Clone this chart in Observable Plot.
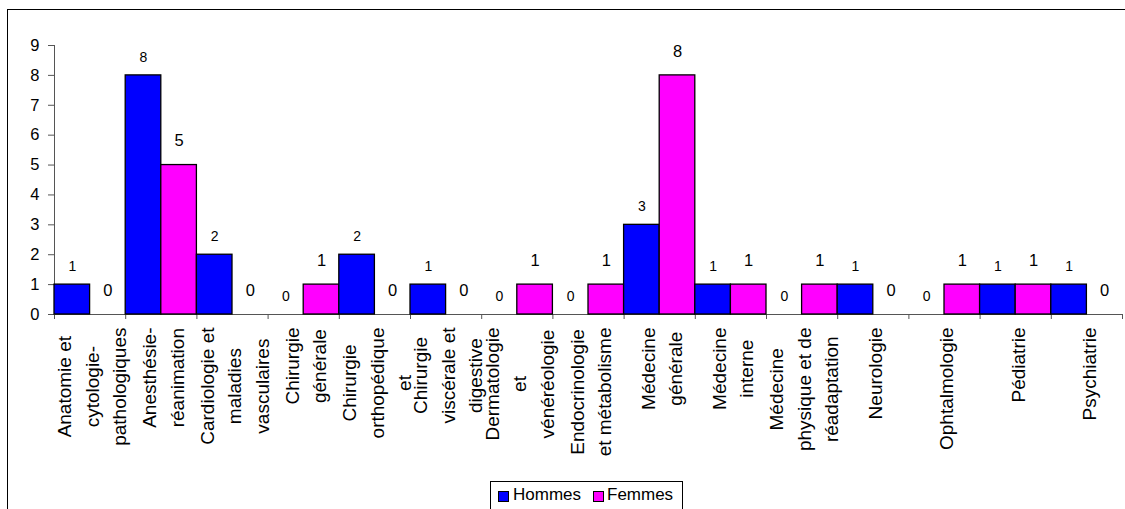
<!DOCTYPE html>
<html>
<head>
<meta charset="utf-8">
<script src="https://cdn.jsdelivr.net/npm/d3@7"></script>
<script src="https://cdn.jsdelivr.net/npm/@observablehq/plot@0.6"></script>
<style>
html, body { margin: 0; padding: 0; background: #fff; overflow: hidden; }
#wrap { position: relative; width: 1125px; height: 509px; overflow: hidden; font-family: Arial, "Liberation Sans", sans-serif; }
#frame { position: absolute; left: 7px; top: 9px; width: 1200px; height: 600px; border: 1px solid #000; box-sizing: border-box; }
#chart { position: absolute; left: 0; top: 0; }
#legend { position: absolute; left: 490px; top: 481px; width: 193px; height: 40px; border: 1px solid #000; box-sizing: border-box; background: #fff; font-size: 17px; color: #000; }
#legend .sw { position: absolute; width: 9px; height: 9px; border: 1px solid #000; top: 9px; }
#legend .lb { position: absolute; top: 3px; line-height: 19px; white-space: nowrap; }
</style>
</head>
<body>
<div id="wrap">
  <div id="frame"></div>
  <div id="chart"></div>
  <div id="legend"></div>
</div>
<script>
// ---- data ----
const categories = [
  "Anatomie et\ncytologie-\npathologiques",
  "Anesthésie-\nréanimation",
  "Cardiologie et\nmaladies\nvasculaires",
  "Chirurgie\ngénérale",
  "Chirurgie\northopédique\net",
  "Chirurgie\nviscérale et\ndigestive",
  "Dermatologie\net\nvénéréologie",
  "Endocrinologie\net métabolisme",
  "Médecine\ngénérale",
  "Médecine\ninterne",
  "Médecine\nphysique et de\nréadaptation",
  "Neurologie",
  "Ophtalmologie",
  "Pédiatrie",
  "Psychiatrie"
];
const hommes = [1, 8, 2, 0, 2, 1, 0, 0, 3, 1, 0, 1, 0, 1, 1];
const femmes = [0, 5, 0, 1, 0, 0, 1, 1, 8, 1, 1, 0, 1, 1, 0];
const seriesNames = ["Hommes", "Femmes"];
const seriesColors = ["#0000FF", "#FF00FF"];
const yTicks = [0, 1, 2, 3, 4, 5, 6, 7, 8, 9];

// ---- table ----
const rows = categories.flatMap((c, i) => [
  {cat: c, i, sex: "Hommes", v: hommes[i]},
  {cat: c, i, sex: "Femmes", v: femmes[i]}
]);
const off = s => s === "Hommes" ? 0 : 0.5;

const FONT = "Arial, 'Liberation Sans', sans-serif";
const LABEL_SIZE = 19;
const ctx = document.createElement("canvas").getContext("2d");
ctx.font = LABEL_SIZE + "px Arial, 'Liberation Sans', sans-serif";

const labelMarks = categories.map((c, i) => {
  const w = d3.max(c.split("\n"), s => ctx.measureText(s).width);
  return Plot.text([i + 0.5], {
    x: d => d, text: () => c, frameAnchor: "bottom",
    rotate: -90, textAnchor: "middle", lineAnchor: "middle",
    lineHeight: 27.5 / LABEL_SIZE, fontSize: LABEL_SIZE, fill: "#000",
    dy: 13 + w / 2
  });
});

const axisColor = "#555";

const chart = Plot.plot({
  width: 1125,
  height: 509,
  marginLeft: 54,
  marginRight: 3,
  marginTop: 45,
  marginBottom: 195,
  style: {fontFamily: FONT, fontSize: "16px", background: "transparent", color: "#000", overflow: "visible"},
  x: {type: "linear", domain: [0, categories.length], axis: null},
  y: {domain: [0, 9], axis: null},
  color: {domain: seriesNames, range: seriesColors},
  marks: [
    Plot.ruleY([0], {x1: 0, x2: categories.length, stroke: axisColor}),
    Plot.ruleX([0], {y1: 0, y2: 9, stroke: axisColor}),
    Plot.axisY({ticks: yTicks, label: null, tickSize: 6, tickPadding: 9, stroke: axisColor, fill: "#000", fontSize: 16.5, tickFormat: d => String(d)}),
    Plot.axisX({ticks: d3.range(categories.length + 1), label: null, tickSize: 5, tickFormat: () => "", stroke: axisColor}),
    Plot.rectY(rows.filter(d => d.v > 0), {
      x1: d => d.i + off(d.sex), x2: d => d.i + off(d.sex) + 0.5,
      y1: 0, y2: "v", fill: "sex", stroke: "#000", strokeWidth: 1.3
    }),
    Plot.text(rows.filter(d => d.sex === "Hommes"), {
      x: d => d.i + 0.25, y: "v", text: d => String(d.v), dy: -18, fontSize: 14, fill: "#000"
    }),
    Plot.text(rows.filter(d => d.sex === "Femmes"), {
      x: d => d.i + 0.75, y: "v", text: d => String(d.v), dy: -24, fontSize: 16.5, fill: "#000"
    }),
    ...labelMarks
  ]
});
document.getElementById("chart").appendChild(chart);

// ---- legend ----
const legend = document.getElementById("legend");
const swLeft = [7, 102];
const lbLeft = [22, 116];
seriesNames.forEach((n, k) => {
  const sw = document.createElement("span");
  sw.className = "sw";
  sw.style.left = swLeft[k] + "px";
  sw.style.background = seriesColors[k];
  legend.appendChild(sw);
  const lb = document.createElement("span");
  lb.className = "lb";
  lb.style.left = lbLeft[k] + "px";
  lb.textContent = n;
  legend.appendChild(lb);
});
</script>
</body>
</html>
